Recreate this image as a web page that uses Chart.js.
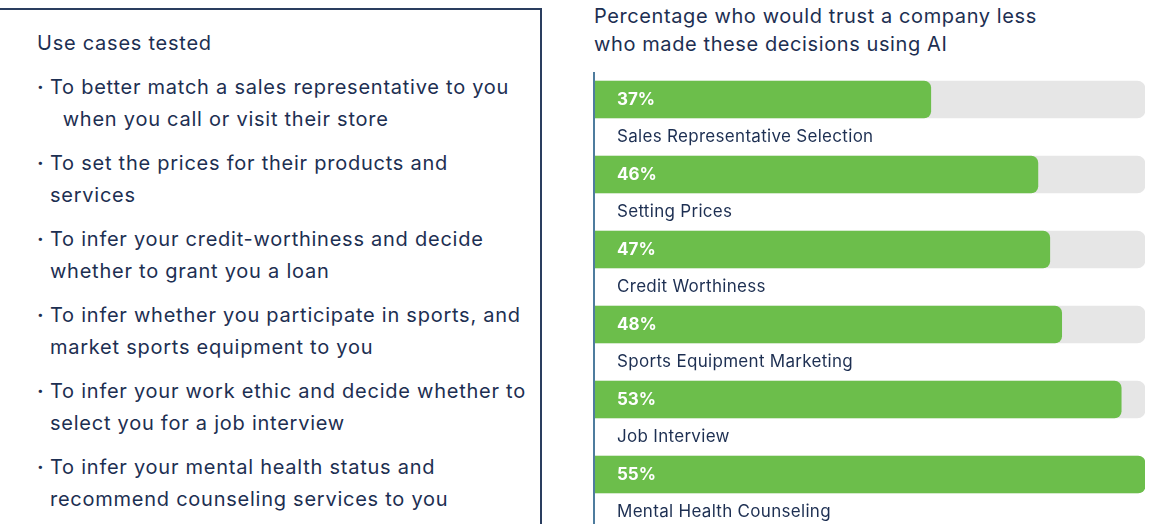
<!DOCTYPE html>
<html>
<head>
<meta charset="utf-8">
<script src="https://cdn.jsdelivr.net/npm/chart.js@4/dist/chart.umd.min.js"></script>
<style>
  html, body { margin:0; padding:0; background:#fff; width:1152px; height:524px; overflow:hidden; }
  body { position:relative; font-family: Inter, "Open Sans", sans-serif; color:#1d2f52; }
  #box { position:absolute; left:-10px; top:8px; width:552px; height:560px; border:2px solid #2a3d5f; box-sizing:border-box; }
  #boxhead { position:absolute; left:37px; top:30px; font-size:20px; line-height:26px; letter-spacing:0.75px; }
  ul { position:absolute; left:37px; top:71px; margin:0; padding:0; list-style:none; width:500px; }
  li { font-size:20px; line-height:32px; margin-bottom:12px; letter-spacing:0.75px; white-space:nowrap; }
  li .b { display:inline-block; width:13px; font-weight:bold; letter-spacing:0; }
  li .l2 { padding-left:13px; }
  #title { position:absolute; left:594px; top:2px; font-size:20px; line-height:28px; color:#1d2f52; letter-spacing:0.6px; }
  #wrap { position:absolute; left:580px; top:0; width:572px; height:524px; }
</style>
</head>
<body>
<div id="box"></div>
<div id="boxhead">Use cases tested</div>
<ul id="uses"></ul>
<div id="title">Percentage who would trust a company less<br>who made these decisions using AI</div>
<div id="wrap"><canvas id="c" width="572" height="524"></canvas></div>
<script>
const useCaseLines = [
  ["To better match a sales representative to you", "\u00a0\u00a0when you call or visit their store"],
  ["To set the prices for their products and", "services"],
  ["To infer your credit-worthiness and decide", "whether to grant you a loan"],
  ["To infer whether you participate in sports, and", "market sports equipment to you"],
  ["To infer your work ethic and decide whether to", "select you for a job interview"],
  ["To infer your mental health status and", "recommend counseling services to you"]
];
const categories = ["Sales Representative Selection","Setting Prices","Credit Worthiness","Sports Equipment Marketing","Job Interview","Mental Health Counseling"];
const values = [37, 46, 47, 48, 53, 55];
const trackMax = 55;
const axisMin = 8.7;

const ul = document.getElementById('uses');
useCaseLines.forEach(lines => {
  const li = document.createElement('li');
  const b = document.createElement('span'); b.className = 'b'; b.textContent = '\u00b7';
  li.appendChild(b);
  li.appendChild(document.createTextNode(lines[0]));
  li.appendChild(document.createElement('br'));
  const s = document.createElement('span'); s.className = 'l2'; s.textContent = lines[1];
  li.appendChild(s);
  ul.appendChild(li);
});

const labelPlugin = {
  id: 'labels',
  afterDatasetsDraw(chart) {
    const ctx = chart.ctx;
    const meta = chart.getDatasetMeta(0);
    const xs = chart.scales.x;
    ctx.save();
    ctx.strokeStyle = '#4e7c9e';
    ctx.lineWidth = 2;
    ctx.beginPath();
    ctx.moveTo(xs.left, 72);
    ctx.lineTo(xs.left, 524);
    ctx.stroke();
    meta.data.forEach((bar, i) => {
      ctx.textBaseline = 'middle';
      ctx.textAlign = 'left';
      ctx.fillStyle = '#ffffff';
      ctx.letterSpacing = '0px';
      ctx.font = 'bold 17px Inter, "Open Sans", sans-serif';
      ctx.fillText(values[i] + '%', xs.left + 23, bar.y);
      ctx.fillStyle = '#1d2f52';
      ctx.letterSpacing = '0.3px';
      ctx.font = '17px Inter, "Open Sans", sans-serif';
      ctx.fillText(categories[i], xs.left + 23, bar.y + 37);
    });
    ctx.restore();
  }
};

new Chart(document.getElementById('c'), {
  type: 'bar',
  data: {
    labels: categories,
    datasets: [
      { data: values, backgroundColor: '#6cbe4b', base: axisMin, barThickness: 37, grouped: false,
        borderRadius: {topLeft:0, bottomLeft:0, topRight:7, bottomRight:7}, borderSkipped: false },
      { data: categories.map(() => trackMax), backgroundColor: '#e6e6e6', base: axisMin, barThickness: 37, grouped: false,
        borderRadius: {topLeft:0, bottomLeft:0, topRight:8, bottomRight:8}, borderSkipped: false }
    ]
  },
  options: {
    indexAxis: 'y',
    responsive: false,
    animation: false,
    layout: { padding: { left: 14, right: 7, top: 62, bottom: 12 } },
    plugins: { legend: { display: false }, tooltip: { enabled: false } },
    scales: {
      x: { display: false, min: axisMin, max: trackMax },
      y: { display: false, offset: true }
    }
  },
  plugins: [labelPlugin]
});
</script>
</body>
</html>
